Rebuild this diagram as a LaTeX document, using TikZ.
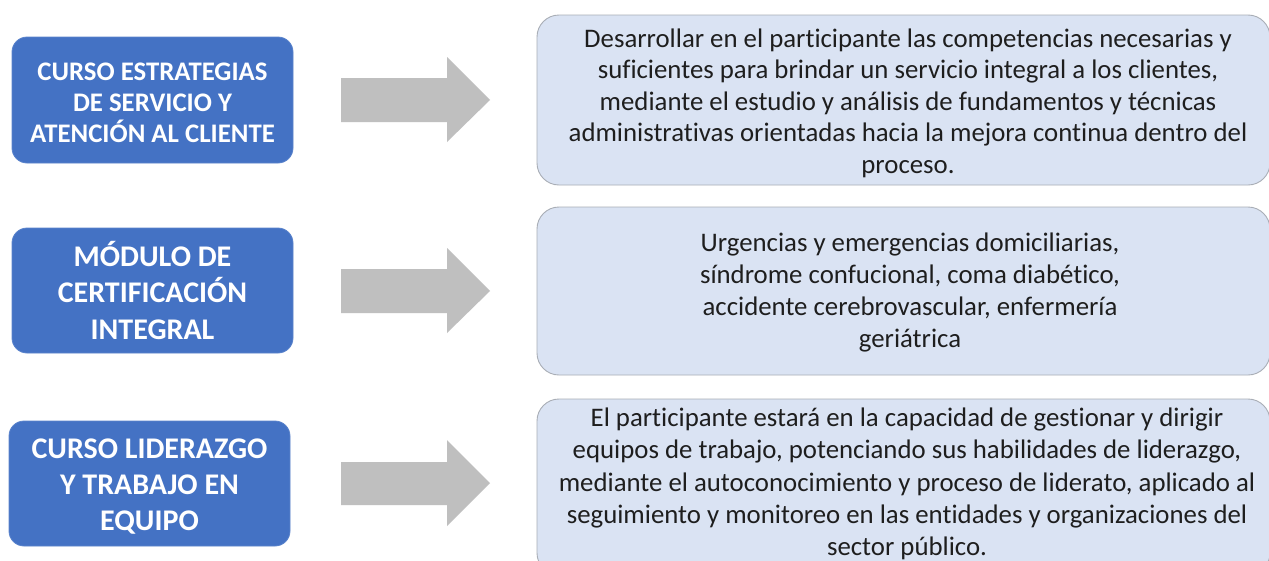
\documentclass[tikz,border=0pt]{standalone}
\usepackage{fontspec}
\setmainfont{Carlito}[Ligatures={NoCommon}]
\definecolor{bluebox}{HTML}{4472C4}
\definecolor{bluebord}{HTML}{5B84CC}
\definecolor{lightbox}{HTML}{DAE3F3}
\definecolor{lightbord}{HTML}{A9AEB6}
\definecolor{arrowgray}{HTML}{BFBFBF}
\definecolor{txt}{HTML}{1E1E1E}
\tikzset{
  leftbox/.style={draw=bluebord, line width=0.8pt, fill=bluebox, rounded corners=15pt, inner sep=0pt},
  lefttext/.style={text=white, align=center, inner sep=0pt},
  rightbox/.style={draw=lightbord, line width=0.9pt, fill=lightbox, rounded corners=22pt, inner sep=0pt},
  righttext/.style={text=txt, align=center, inner sep=0pt},
  bigarrow/.style={fill=arrowgray}
}
\begin{document}
\begin{tikzpicture}[x=1pt,y=-1pt]
\clip (0,0) rectangle (1269,560);
\fill[white] (0,0) rectangle (1269,560);
% left boxes
\node[leftbox, minimum width=281pt, minimum height=126pt] (L1) at (152.5,100) {};
\node[leftbox, minimum width=281pt, minimum height=125pt] (L2) at (152.5,290.5) {};
\node[leftbox, minimum width=281pt, minimum height=125pt] (L3) at (149.5,483.5) {};
\node[lefttext, font=\bfseries\fontsize{26.8}{31}\selectfont] (LT1) at (152.5,102.5)
  {CURSO ESTRATEGIAS\\ DE SERVICIO Y\\ ATENCIÓN AL CLIENTE};
\node[lefttext, font=\bfseries\fontsize{30}{36.5}\selectfont] (LT2) at (152.5,290)
  {MÓDULO DE\\ CERTIFICACIÓN\\ INTEGRAL};
\node[lefttext, font=\bfseries\fontsize{30}{36}\selectfont] (LT3) at (149.5,486.5)
  {CURSO LIDERAZGO\\ Y TRABAJO EN\\ EQUIPO};
% arrows
\fill[bigarrow] (341,78) -- (447,78) -- (447,57) -- (490,100) -- (447,142) -- (447,122) -- (341,122) -- cycle;
\fill[bigarrow] (341,269) -- (447,269) -- (447,248) -- (490,291) -- (447,333) -- (447,313) -- (341,313) -- cycle;
\fill[bigarrow] (341,462) -- (447,462) -- (447,440) -- (490,483) -- (447,526) -- (447,505) -- (341,505) -- cycle;
% right boxes
\node[rightbox, minimum width=733pt, minimum height=170pt] (R1) at (903.5,100) {};
\node[rightbox, minimum width=733pt, minimum height=168pt] (R2) at (903.5,291) {};
\node[rightbox, minimum width=733pt, minimum height=176pt] (R3) at (903.5,487) {};
\node[righttext, font=\fontsize{26.8}{31.5}\selectfont] (T1) at (908,103)
  {Desarrollar en el participante las competencias necesarias y\\
   suficientes para brindar un servicio integral a los clientes,\\
   mediante el estudio y análisis de fundamentos y técnicas\\
   administrativas orientadas hacia la mejora continua dentro del\\
   proceso.};
\node[righttext, font=\fontsize{26.8}{32}\selectfont] (T2) at (910,292)
  {Urgencias y emergencias domiciliarias,\\
   síndrome confucional, coma diabético,\\
   accidente cerebrovascular, enfermería\\
   geriátrica};
\node[righttext, font=\fontsize{26.8}{32.2}\selectfont] (T3) at (907,484)
  {El participante estará en la capacidad de gestionar y dirigir\\
   equipos de trabajo, potenciando sus habilidades de liderazgo,\\
   mediante el autoconocimiento y proceso de liderato, aplicado al\\
   seguimiento y monitoreo en las entidades y organizaciones del\\
   sector público.};
\end{tikzpicture}
\end{document}
